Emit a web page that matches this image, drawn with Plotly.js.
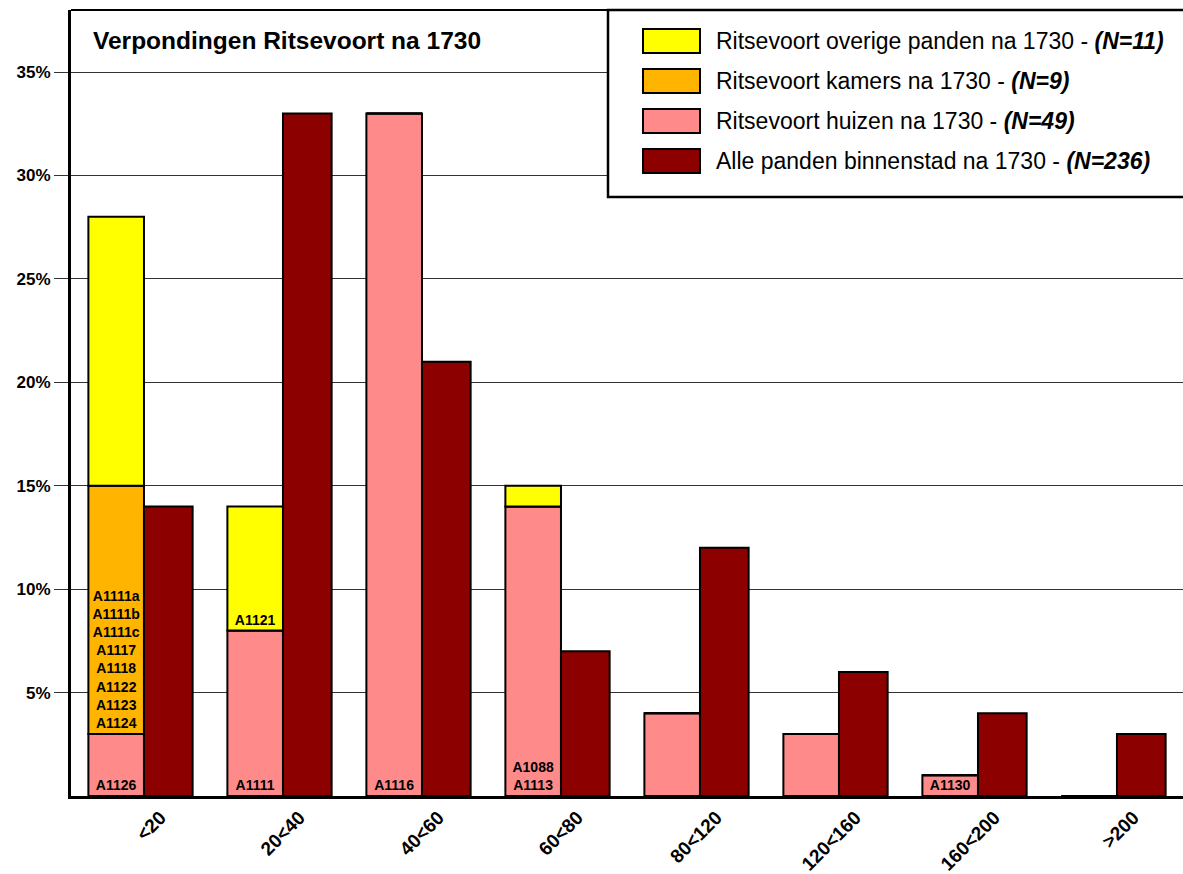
<!DOCTYPE html>
<html>
<head>
<meta charset="utf-8">
<script src="https://cdn.plot.ly/plotly-3.0.1.min.js"></script>
<style>
  html, body { margin: 0; padding: 0; background: #ffffff; }
  #chart { width: 1183px; height: 874px; }
</style>
</head>
<body>
<div id="chart"></div>
<script>
// ---- data ----
const categories = ['<20', '20<40', '40<60', '60<80', '80<120', '120<160', '160<200', '>200'];
const huizen  = [3, 8, 33, 14, 4, 3, 1, 0];
const kamers  = [12, 0, 0, 0, 0, 0, 0, 0];
const overige = [13, 6, 0, 1, 0, 0, 0, 0];
const alle    = [14, 33, 21, 7, 12, 6, 4, 3];
const huizenLabels  = ['A1126', 'A1111', 'A1116', 'A1088<br>A1113', '', '', 'A1130', ''];
const kamersLabels  = ['A1111a<br>A1111b<br>A1111c<br>A1117<br>A1118<br>A1122<br>A1123<br>A1124', '', '', '', '', '', '', ''];
const overigeLabels = ['', 'A1121', '', '', '', '', '', ''];
const yTickValues = [5, 10, 15, 20, 25, 30, 35];
const yTickLabels = ['5%', '10%', '15%', '20%', '25%', '30%', '35%'];
const seriesNames = ['Ritsevoort overige panden na 1730', 'Ritsevoort kamers na 1730', 'Ritsevoort huizen na 1730', 'Alle panden binnenstad na 1730'];
const seriesN = ['N=11', 'N=9', 'N=49', 'N=236'];
const chartTitle = 'Verpondingen Ritsevoort na 1730';

// ---- styles ----
const colors = { overige: '#FFFF00', kamers: '#FFB400', huizen: '#FF8A8A', alle: '#8C0000' };
const FONT = '"Liberation Sans", Arial, sans-serif';
const W = 1183, H = 874;
const M = { l: 71, r: 0, t: 10, b: 78 };
const PW = W - M.l - M.r, PH = H - M.t - M.b;
const px = v => (v - M.l) / PW;       // pixel x -> paper x
const py = v => (H - M.b - v) / PH;   // pixel y -> paper y

// stacking bases built from the data
const baseKamers = huizen.map(v => v);
const baseOverige = huizen.map((v, i) => v + kamers[i]);

const leftOffset = -0.375, leftWidth = 0.4;
const rightOffset = 0.025, rightWidth = 0.35;
const lineFor = arr => ({ color: arr.map(v => v === 0 ? '#a0a0a0' : '#000000'), width: 2 });
const textFont = { family: FONT, size: 14, color: '#000000', weight: 'bold' };

const common = {
  type: 'bar', x: categories, textposition: 'inside', insidetextanchor: 'start',
  textangle: 0, insidetextfont: textFont, textfont: textFont, hoverinfo: 'x+y+name',
  constraintext: 'none', showlegend: false
};

const traces = [
  Object.assign({}, common, { name: seriesNames[2], y: huizen, base: huizen.map(() => 0), text: huizenLabels,
    offset: leftOffset, width: leftWidth, marker: { color: colors.huizen, line: lineFor(huizen) } }),
  Object.assign({}, common, { name: seriesNames[1], y: kamers, base: baseKamers, text: kamersLabels,
    offset: leftOffset, width: leftWidth, marker: { color: colors.kamers, line: { color: '#000', width: 2 } } }),
  Object.assign({}, common, { name: seriesNames[0], y: overige, base: baseOverige, text: overigeLabels,
    offset: leftOffset, width: leftWidth, marker: { color: colors.overige, line: { color: '#000', width: 2 } } }),
  Object.assign({}, common, { name: seriesNames[3], y: alle, base: alle.map(() => 0), text: alle.map(() => ''),
    offset: rightOffset, width: rightWidth, marker: { color: colors.alle, line: { color: '#000', width: 2 } } })
];

// ---- custom legend ----
const legendColors = [colors.overige, colors.kamers, colors.huizen, colors.alle];
const legendRowY = [41, 81, 121, 161];
const shapes = [
  { type: 'line', xref: 'paper', yref: 'paper', x0: 0, x1: 1, y0: 1, y1: 1, line: { color: '#000', width: 2 } },
  { type: 'rect', xref: 'paper', yref: 'paper', layer: 'above', x0: px(608), x1: px(1192), y0: py(197), y1: py(10),
    fillcolor: '#ffffff', line: { color: '#000', width: 2.5 } }
];
const annotations = [];
legendRowY.forEach((cy, i) => {
  shapes.push({ type: 'rect', xref: 'paper', yref: 'paper', layer: 'above',
    x0: px(643), x1: px(700), y0: py(cy + 12), y1: py(cy - 12),
    fillcolor: legendColors[i], line: { color: '#000', width: 2 } });
  annotations.push({ xref: 'paper', yref: 'paper', x: px(714), y: py(cy), xanchor: 'left', yanchor: 'middle',
    showarrow: false, text: seriesNames[i] + ' - <b><i>(' + seriesN[i] + ')</i></b>',
    font: { family: FONT, size: 23, color: '#000' } });
});

const layout = {
  width: W, height: H,
  margin: M,
  paper_bgcolor: '#ffffff', plot_bgcolor: '#ffffff',
  barmode: 'overlay',
  showlegend: false,
  font: { family: FONT, color: '#000' },
  title: { text: chartTitle, xref: 'container', yref: 'container', x: 93 / W, xanchor: 'left',
    y: 1 - 40 / H, yanchor: 'middle', font: { family: FONT, size: 24.5, color: '#000', weight: 'bold' } },
  xaxis: {
    type: 'category', range: [-0.5, 7.5], showgrid: false, zeroline: false,
    showline: true, linecolor: '#000', linewidth: 3, ticks: '',
    tickangle: -45, ticklabelshift: 20, ticklabelstandoff: 0,
    tickfont: { family: FONT, size: 19, color: '#000', weight: 'bold' }
  },
  yaxis: {
    range: [0, 38], tickvals: yTickValues, ticktext: yTickLabels,
    showgrid: true, gridcolor: '#333333', gridwidth: 1, zeroline: false,
    showline: true, linecolor: '#000', linewidth: 3,
    ticks: 'outside', ticklen: 14, tickcolor: '#333333', tickwidth: 1, ticklabelstandoff: 0,
    tickfont: { family: FONT, size: 17, color: '#000', weight: 'bold' }
  },
  shapes: shapes,
  annotations: annotations
};

Plotly.newPlot('chart', traces, layout, { displayModeBar: false, staticPlot: true });
</script>
</body>
</html>
